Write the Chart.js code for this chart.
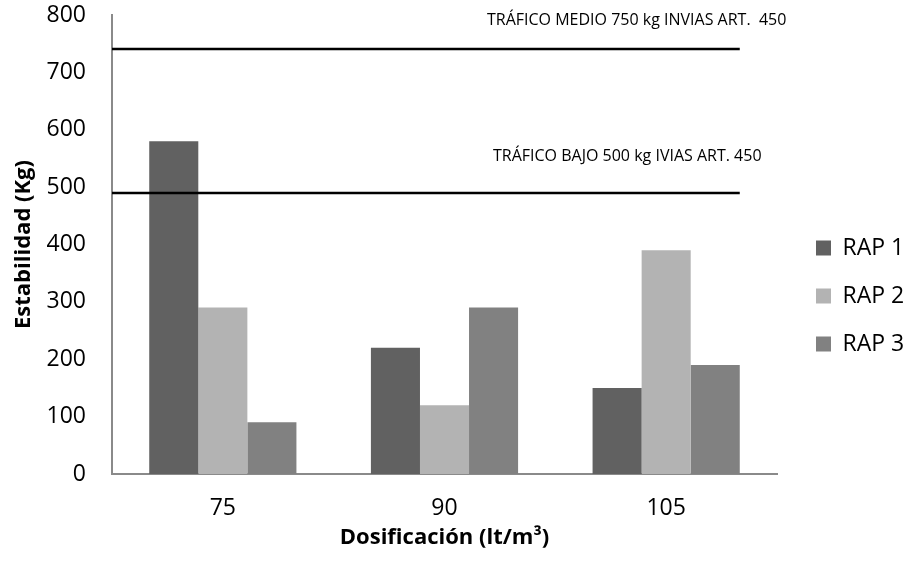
<!DOCTYPE html>
<html lang="es">
<head>
    <meta charset="UTF-8">
    <title>Estabilidad vs Dosificación</title>
    <script src="https://cdn.jsdelivr.net/npm/chart.js@4.4.1/dist/chart.umd.min.js"></script>
    <style>
        html, body { margin: 0; padding: 0; background: #fff; }
        #chart-container { width: 904px; height: 565px; }
    </style>
</head>
<body>
    <div id="chart-container">
        <canvas id="myChart"></canvas>
    </div>

    <script>
        // Datos
        const categories = ['75', '90', '105'];
        const rap1 = [580, 220, 150];
        const rap2 = [290, 120, 390];
        const rap3 = [90, 290, 190];
        const limitValues = [740, 490];
        const limitLabels = ['TRÁFICO MEDIO 750 kg INVIAS ART.  450', 'TRÁFICO BAJO 500 kg IVIAS ART. 450'];

        const FONT = "'Open Sans', sans-serif";
        const axisColor = '#8a8a8a';

        // Líneas de referencia (tráfico medio / bajo)
        const limitLines = {
            id: 'limitLines',
            afterDatasetsDraw(chart) {
                const { ctx, chartArea, scales: { y } } = chart;
                const meta = chart.getDatasetMeta(chart.data.datasets.length - 1);
                const last = meta.data[meta.data.length - 1];
                const xEnd = last.x + last.width / 2;
                const labelX = [375, 381];
                const labelDy = [29, 37];
                ctx.save();
                ctx.strokeStyle = '#000';
                ctx.lineWidth = 2.5;
                ctx.fillStyle = '#000';
                ctx.font = '16px ' + FONT;
                ctx.textBaseline = 'middle';
                limitValues.forEach((v, i) => {
                    const py = Math.round(y.getPixelForValue(v));
                    ctx.beginPath();
                    ctx.moveTo(chartArea.left, py);
                    ctx.lineTo(xEnd, py);
                    ctx.stroke();
                    ctx.fillText(limitLabels[i], chartArea.left + labelX[i], py - labelDy[i]);
                });
                ctx.restore();
            }
        };

        // Ajuste de la leyenda a la derecha
        const legendPlacement = {
            id: 'legendPlacement',
            beforeLayout(chart) {
                const legend = chart.legend;
                if (legend && !legend._patched) {
                    const origFit = legend.fit;
                    legend.fit = function () {
                        origFit.call(this);
                        this.width = 127;
                    };
                    legend._patched = true;
                }
            },
            afterLayout(chart) {
                const legend = chart.legend;
                legend.left += 14; legend.right += 14;
                legend.top += 6; legend.bottom += 6;
            }
        };

        const ctx = document.getElementById('myChart').getContext('2d');
        const myChart = new Chart(ctx, {
            type: 'bar',
            data: {
                labels: categories,
                datasets: [
                    { label: 'RAP 1', data: rap1, backgroundColor: '#616161' },
                    { label: 'RAP 2', data: rap2, backgroundColor: '#b3b3b3' },
                    { label: 'RAP 3', data: rap3, backgroundColor: '#818181' }
                ]
            },
            options: {
                responsive: true,
                maintainAspectRatio: false,
                animation: false,
                categoryPercentage: 0.664,
                barPercentage: 1,
                layout: { padding: { top: 15, right: 0, bottom: 0, left: 0 } },
                plugins: {
                    legend: {
                        position: 'right',
                        labels: {
                            boxWidth: 15,
                            boxHeight: 15,
                            padding: 25,
                            color: '#000',
                            font: { family: FONT, size: 23 }
                        }
                    },
                    tooltip: { enabled: false }
                },
                scales: {
                    x: {
                        grid: { display: false, drawTicks: false },
                        border: { color: axisColor, width: 2 },
                        ticks: { color: '#000', padding: 21, font: { family: FONT, size: 23 } },
                        title: {
                            display: true,
                            text: 'Dosificación (lt/m³)',
                            color: '#000',
                            padding: { top: 0, bottom: 14 },
                            font: { family: FONT, size: 22, weight: 'bold' }
                        },
                        afterFit(scale) { scale.height = 91; }
                    },
                    y: {
                        min: 0,
                        max: 800,
                        grid: { display: false, drawTicks: false },
                        border: { color: axisColor, width: 2 },
                        ticks: { stepSize: 100, color: '#000', padding: 26, font: { family: FONT, size: 23 } },
                        title: {
                            display: true,
                            text: 'Estabilidad (Kg)',
                            color: '#000',
                            padding: { top: 11, bottom: 0 },
                            font: { family: FONT, size: 22, weight: 'bold' }
                        },
                        afterFit(scale) {
                            scale.width = 112;
                            scale.paddingTop = 0;
                            scale.paddingBottom = 0;
                        }
                    }
                }
            },
            plugins: [limitLines, legendPlacement]
        });
    </script>
</body>
</html>
